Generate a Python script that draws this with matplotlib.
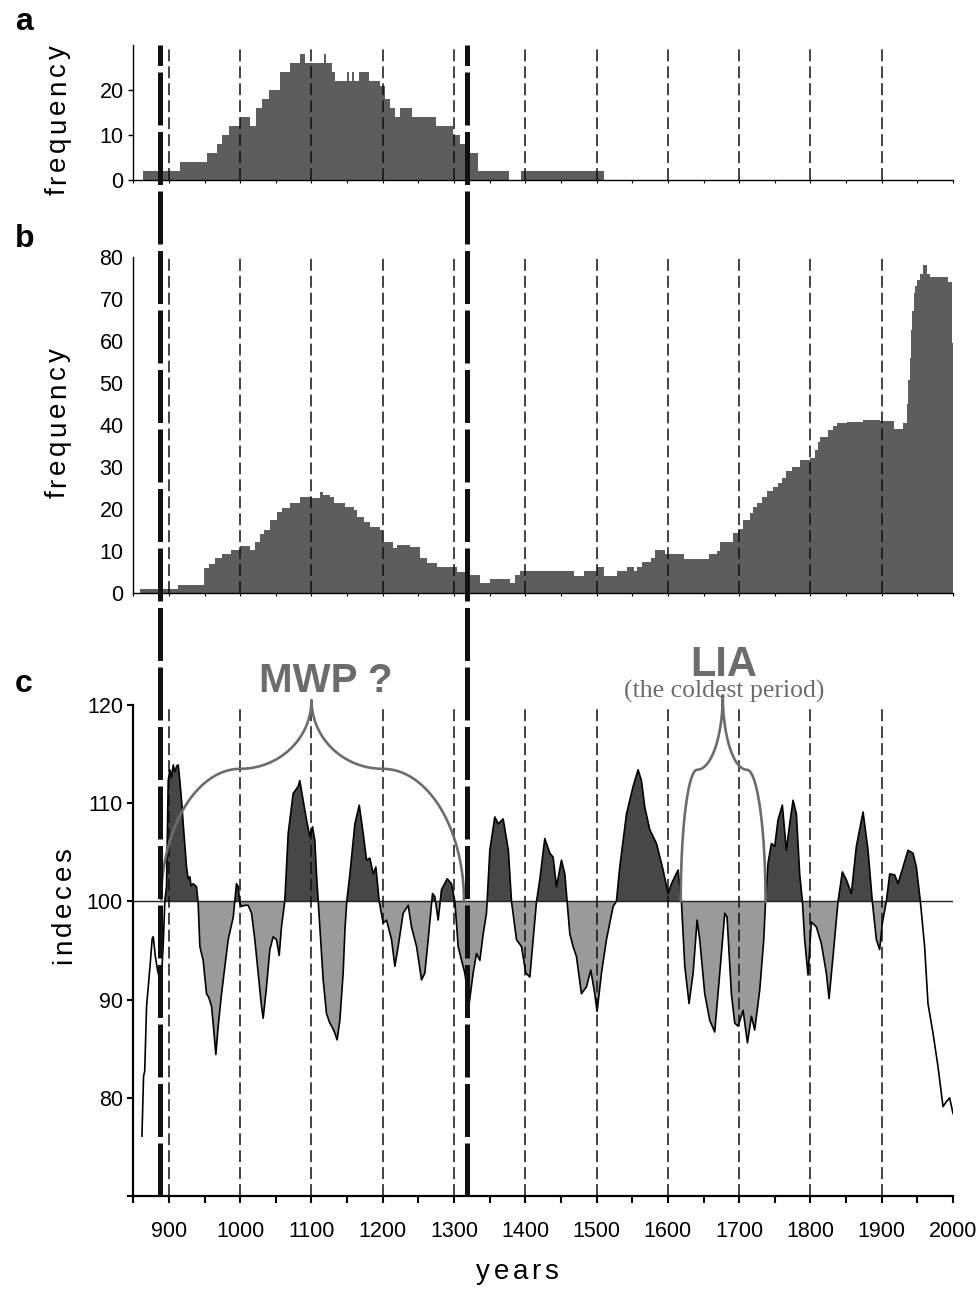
import numpy as np
import matplotlib
matplotlib.use("Agg")
import matplotlib.pyplot as plt

W, H = 977, 1299
SANS = "Liberation Sans"
SERIF = "Liberation Serif"

# ---- a: frequency of dated samples (bin edges in years, counts) ----
a_edges = [864, 916, 953, 967, 974, 984, 1000, 1014, 1022, 1030, 1040, 1056, 1070,
           1084, 1091, 1112, 1118, 1120, 1129, 1133, 1150, 1152, 1157, 1159, 1166,
           1180, 1196, 1203, 1210, 1217, 1224, 1241, 1274, 1299, 1309, 1320, 1334,
           1377, 1394, 1510]
a_counts = [2, 4, 6, 8, 10, 12, 14, 12, 16, 18, 20, 24, 26, 28, 26, 26, 28, 26, 24,
            22, 24, 22, 24, 22, 24, 22, 21, 18, 16, 14, 16, 14, 12, 10, 8, 6, 2, 0, 2]

# ---- b: frequency of samples, full chronology ----
b_edges = [860, 913, 949, 956, 965, 975, 987, 1000, 1014, 1021, 1028, 1033, 1042,
           1051, 1058, 1070, 1084, 1100, 1112, 1116, 1126, 1131, 1147, 1159, 1164,
           1173, 1182, 1196, 1201, 1215, 1220, 1238, 1252, 1262, 1276, 1304, 1318,
           1337, 1351, 1379, 1386, 1393, 1468, 1482, 1500, 1510, 1528, 1542, 1552,
           1556, 1563, 1577, 1582, 1596, 1622, 1657, 1669, 1673, 1692, 1699, 1706,
           1715, 1720, 1725, 1732, 1739, 1748, 1754, 1760, 1766, 1774, 1785, 1799,
           1806, 1810, 1814, 1825, 1831, 1837, 1851, 1874, 1898, 1917, 1930, 1935,
           1937, 1939, 1941, 1943, 1945, 1947, 1950, 1954, 1958, 1963, 1968, 1993,
           1999, 2000]
b_counts = [1, 2, 6, 7, 8.3, 9.3, 10.3, 11.2, 10.3, 12.3, 14, 15, 17.4, 19.4, 20.2,
            21.4, 23, 22.6, 24, 23.4, 23, 21.4, 20.6, 19.8, 18.2, 17, 15.8, 15, 12.3,
            10.7, 11.5, 11, 8.3, 7.1, 6.3, 5.1, 4.4, 2.4, 3.3, 2.4, 4.4, 5.2, 4.2,
            5.2, 6.3, 4.2, 5.2, 6.2, 5.2, 6.3, 7.4, 8.5, 10.3, 9.3, 8.1, 9.3, 10,
            12.2, 14.3, 15.3, 17.5, 19, 20.5, 21.4, 23, 24.2, 25.3, 26.1, 27.5, 29,
            30.1, 31.7, 32.1, 34, 36, 37.2, 38.8, 39.8, 40.4, 40.8, 41.2, 41, 39,
            40.4, 45, 50.7, 56, 62.6, 67, 71.3, 73, 74.5, 76, 78, 76, 75.2, 74, 59.4]

# ---- c: index series ----
idx_year = [862.1, 864.4, 866, 868.6, 873.8, 876.5, 878, 880.9, 884, 887.3, 889.3,
            892, 894.3, 896.6, 899, 901.3, 903.5, 906, 908.3, 911, 913, 915.3, 918,
            920, 922.4, 924.7, 927, 929.4, 931, 934, 938.7, 941, 943.4, 948, 952.7,
            956, 959.8, 962, 965.8, 969.1, 973.8, 978.5, 983.1, 990.2, 994.8, 997.2,
            999.5, 1001.8, 1006.5, 1011.2, 1015.9, 1020.5, 1025.2, 1029.9, 1032.2,
            1036.9, 1041.6, 1046.2, 1050.9, 1054.7, 1057.9, 1062.6, 1067.3, 1074.3,
            1081.3, 1083.6, 1088.3, 1093, 1097.7, 1101.4, 1104.7, 1107, 1109.4,
            1111.7, 1116.4, 1121, 1125.7, 1129, 1132.7, 1136, 1139.8, 1144.4, 1147,
            1149.5, 1153.9, 1160.9, 1167, 1172.6, 1177.2, 1181.9, 1186.6, 1190.3,
            1195, 1200.6, 1205.3, 1212.3, 1217, 1221.6, 1228.6, 1235.7, 1240.3,
            1247.4, 1254.4, 1259, 1263.7, 1269.8, 1273, 1277.7, 1282.4, 1290.4,
            1296.4, 1301.1, 1305.8, 1310.5, 1315.1, 1321.2, 1326.8, 1331.5, 1336.2,
            1340.9, 1345.5, 1350.2, 1357.2, 1361.9, 1368.9, 1376.2, 1380.6, 1387.6,
            1394.6, 1400.7, 1406.3, 1411, 1415.7, 1420.3, 1427.3, 1434.4, 1439,
            1443.7, 1450.7, 1455.4, 1458.6, 1462.4, 1467, 1471.7, 1478.7, 1485.8,
            1491.8, 1497.4, 1500.7, 1506.8, 1513.8, 1523.2, 1527.8, 1532.5, 1541.9,
            1551.2, 1558.2, 1562.9, 1567.6, 1574.6, 1584, 1593.3, 1600.3, 1605,
            1614.3, 1619, 1623.7, 1629.7, 1635.4, 1641, 1644.7, 1651.7, 1658.7,
            1665.7, 1672.8, 1679.8, 1683, 1689.1, 1693.8, 1698.5, 1705.5, 1711.6,
            1717.2, 1721.8, 1728.9, 1734.5, 1737, 1740.5, 1745.2, 1749.9, 1754.5,
            1760.6, 1766.2, 1770.9, 1775.6, 1780.3, 1784.9, 1788.7, 1791.9, 1796.6,
            1801.3, 1808.3, 1815.3, 1822.3, 1826.1, 1831.7, 1838.7, 1844.8, 1850.4,
            1857.4, 1864.4, 1873.8, 1880.8, 1886.8, 1892.5, 1897.1, 1900.9, 1906.5,
            1911.2, 1918.2, 1922.8, 1929.9, 1936.9, 1943.9, 1948.6, 1954.2, 1960.2,
            1964.9, 1971.9, 1978.9, 1986, 1990.6, 1995.3, 2000]
idx_val = [76.1, 82.2, 82.7, 89.3, 93.7, 96.2, 96.4, 94.4, 93, 92, 91.9, 95.7, 100.1,
           101.5, 112.3, 113.4, 112.6, 113.9, 113.2, 113.8, 113.9, 112.3, 110, 107.9,
           105.6, 103.5, 102.3, 102.5, 101.6, 101.8, 101.5, 99.8, 95.4, 94, 90.6,
           90.2, 89.3, 87.6, 84.4, 87.3, 90.6, 93.4, 96.1, 98.4, 101.8, 101.5, 99.8,
           99.5, 99.6, 99.6, 98.8, 96.1, 92.7, 89.3, 88.1, 91.3, 95.1, 96.4, 96.1,
           94.5, 97.4, 100.1, 106.9, 111, 111.7, 112.3, 110.3, 108.3, 106.6, 107.6,
           106.2, 102.8, 100, 97.4, 92, 88.6, 87.6, 87.2, 86.6, 85.9, 87.9, 92.7,
           97.2, 100, 102.8, 107.9, 109.8, 106.9, 104.2, 104.4, 102.8, 103.5, 100,
           97.8, 98.1, 96.1, 93.4, 95.4, 98.8, 99.6, 97.4, 95.4, 92, 92.7, 96.1,
           100.8, 100.5, 98.1, 101.2, 102.3, 101.8, 100, 95.4, 94, 92.7, 89.6, 92.7,
           94.7, 94, 96.7, 98.8, 105.2, 108.6, 107.9, 108.4, 105.2, 100, 96.1, 95.4,
           92.7, 92.3, 96.1, 100, 102.2, 106.4, 104.9, 104.5, 101.5, 104.2, 102.8,
           100, 96.7, 95.4, 94.4, 90.6, 91.3, 93, 90.6, 88.8, 92.7, 96.1, 99.5, 100,
           103.5, 108.9, 111.7, 113.4, 112.3, 109.6, 107.3, 105.9, 103.2, 100.8,
           101.8, 103.2, 100, 93.4, 89.6, 92.7, 98.1, 96.1, 90.6, 87.9, 86.7, 92.7,
           98.8, 98.4, 90.6, 87.6, 87.3, 88.9, 85.6, 88.3, 86.9, 91, 96.1, 100,
           103.9, 105.9, 105.6, 108.3, 109.8, 105.2, 107.9, 110.3, 108.9, 102.8, 100,
           96.1, 92.5, 97.9, 97.4, 95.7, 92.7, 90.1, 94.4, 100, 103, 102.2, 100.8,
           105.6, 109.1, 105.2, 100, 96.1, 95.1, 97.8, 100, 102.8, 102.7, 101.8,
           103.5, 105.2, 104.9, 103.5, 100, 95.4, 89.6, 86.6, 83.2, 79.1, 79.6, 80,
           78.4]

century_marks = [900, 1000, 1100, 1200, 1300, 1400, 1500, 1600, 1700, 1800, 1900]
boundary_years = [888, 1318]
x_ticks = list(range(850, 2001, 50))
x_labels = [str(t) if t % 100 == 0 else "" for t in x_ticks]

FILL_AB = "#5d5d5d"
WARM = "#474747"
COLD = "#9a9a9a"
NOTE = "#6c6c6c"

L, R = 133.3, 953.0

fig = plt.figure(figsize=(W / 100, H / 100), dpi=100)
fig.patch.set_facecolor("white")


def add_panel(top, bottom):
    return fig.add_axes([L / W, 1 - bottom / H, (R - L) / W, (bottom - top) / H])


def style(ax, spine_w):
    for s in ("top", "right"):
        ax.spines[s].set_visible(False)
    for s in ("left", "bottom"):
        ax.spines[s].set_linewidth(spine_w)
    ax.set_xlim(850, 2000)
    ax.set_xticks(x_ticks)
    ax.set_facecolor("none")
    for m in century_marks:
        ax.axvline(m, color="#111111", lw=1.1, dashes=(7.8, 3.3), zorder=3)


def spaced(text, cx, cy, size, gap, vertical=False):
    # draws text with extra letter spacing; cx/cy in pixels from top-left
    r = fig.canvas.get_renderer()

    def width(s):
        if not s:
            return 0.0
        t = fig.text(0, 0, s, fontsize=size, family=SANS)
        w = t.get_window_extent(r).width
        t.remove()
        return w

    starts = [width(text[:i + 1]) - width(text[i]) + i * gap for i in range(len(text))]
    total = width(text) + gap * (len(text) - 1)
    for ch, s0 in zip(text, starts):
        if vertical:
            fig.text(cx / W, 1 - (cy + total / 2 - s0) / H, ch, fontsize=size,
                     family=SANS, rotation=90, rotation_mode="anchor",
                     ha="left", va="baseline")
        else:
            fig.text((cx - total / 2 + s0) / W, 1 - cy / H, ch, fontsize=size,
                     family=SANS, ha="left", va="baseline")


def brace(x0, xa, xc, xb, x1, base, shoulder, top, n=80):
    t = np.linspace(0, np.pi / 2, n)
    xs = np.concatenate([x0 + (xa - x0) * (1 - np.cos(t)),
                         xa + (xc - xa) * np.sin(t),
                         xc + (xb - xc) * (1 - np.cos(t)),
                         xb + (x1 - xb) * np.sin(t)])
    ys = np.concatenate([base + (shoulder - base) * np.sin(t),
                         shoulder + (top - shoulder) * (1 - np.cos(t)),
                         top - (top - shoulder) * np.sin(t),
                         shoulder - (shoulder - base) * (1 - np.cos(t))])
    return xs, ys


# panel a
ax_a = add_panel(45, 180)
style(ax_a, 1.0)
ax_a.stairs(a_counts, a_edges, fill=True, color=FILL_AB, zorder=1)
ax_a.set_ylim(0, 30)
ax_a.set_yticks([0, 10, 20])
ax_a.tick_params(axis="y", length=3.5, width=1, pad=3.5, labelsize=15.5)
ax_a.tick_params(axis="x", length=2.5, width=0.8, labelbottom=False)

# panel b
ax_b = add_panel(256.7, 593.3)
style(ax_b, 1.0)
ax_b.stairs(b_counts, b_edges, fill=True, color=FILL_AB, zorder=1)
ax_b.set_ylim(0, 80)
ax_b.set_yticks(range(0, 81, 10))
ax_b.tick_params(axis="y", length=0, pad=7, labelsize=15.5)
ax_b.tick_params(axis="x", length=2.5, width=0.8, labelbottom=False)

# panel c
ax_c = add_panel(705, 1196)
style(ax_c, 1.6)
yr = np.array(idx_year)
val = np.array(idx_val)
span = (yr >= 894.3) & (yr <= 1954.2)
ax_c.fill_between(yr, val, 100, where=span & (val >= 100), interpolate=True,
                  color=WARM, lw=0, zorder=1)
ax_c.fill_between(yr, val, 100, where=span & (val <= 100), interpolate=True,
                  color=COLD, lw=0, zorder=1)
ax_c.axhline(100, color="#222222", lw=1.0, zorder=2)
ax_c.plot(yr, val, color="black", lw=1.2, zorder=4)
ax_c.set_ylim(70, 120)
ax_c.set_yticks([70, 80, 90, 100, 110, 120])
ax_c.set_yticklabels(["", "80", "90", "100", "110", "120"])
ax_c.set_xticklabels(x_labels)
ax_c.tick_params(axis="y", length=4.5, width=1.5, pad=3, labelsize=15.5)
ax_c.tick_params(axis="x", length=5, width=1.5, pad=13, labelsize=15.5)
for lab in ax_c.get_xticklabels() + ax_c.get_yticklabels():
    lab.set_family(SANS)
for ax in (ax_a, ax_b):
    for lab in ax.get_yticklabels():
        lab.set_family(SANS)

# warm-period and cold-period braces
bx, by = brace(889, 1000, 1100, 1200, 1314, 100, 113.5, 120.5)
ax_c.plot(bx, by, color=NOTE, lw=1.9, zorder=5, clip_on=False)
bx, by = brace(1618, 1641, 1677, 1711, 1737, 100, 113.4, 121)
ax_c.plot(bx, by, color=NOTE, lw=1.9, zorder=5, clip_on=False)
ax_c.text(1120, 121.3, "MWP ?", color=NOTE, fontsize=29, fontweight="bold",
          family=SANS, ha="center", va="baseline", clip_on=False)
ax_c.text(1678, 123.0, "LIA", color=NOTE, fontsize=30, fontweight="bold",
          family=SANS, ha="center", va="baseline", clip_on=False)
ax_c.text(1679, 120.75, "(the coldest period)", color=NOTE, fontsize=18.5,
          family=SERIF, ha="center", va="baseline", clip_on=False)

# boundary lines running through all three panels
ax_o = fig.add_axes([L / W, 1 - 1196 / H, (R - L) / W, (1196 - 45) / H])
ax_o.set_xlim(850, 2000)
ax_o.set_ylim(0, 1)
ax_o.axis("off")
ax_o.patch.set_visible(False)
for x in boundary_years:
    ax_o.plot([x, x], [0, 1], color="#111111", lw=3.6, dashes=(10.6, 1.3),
              solid_capstyle="butt", dash_capstyle="butt")

# panel letters
for letter, base in (("a", 30), ("b", 247), ("c", 692)):
    fig.text(15 / W, 1 - base / H, letter, fontsize=23, fontweight="bold",
             family=SANS, ha="left", va="baseline")

# axis titles
spaced("frequency", 65, 120, 20, 3.5, vertical=True)
spaced("frequency", 65, 423, 20, 3.5, vertical=True)
spaced("indeces", 71, 906, 20, 3.5, vertical=True)
spaced("years", 517, 1279, 20, 3.5)

fig.savefig("out.png", dpi=100, facecolor="white")
